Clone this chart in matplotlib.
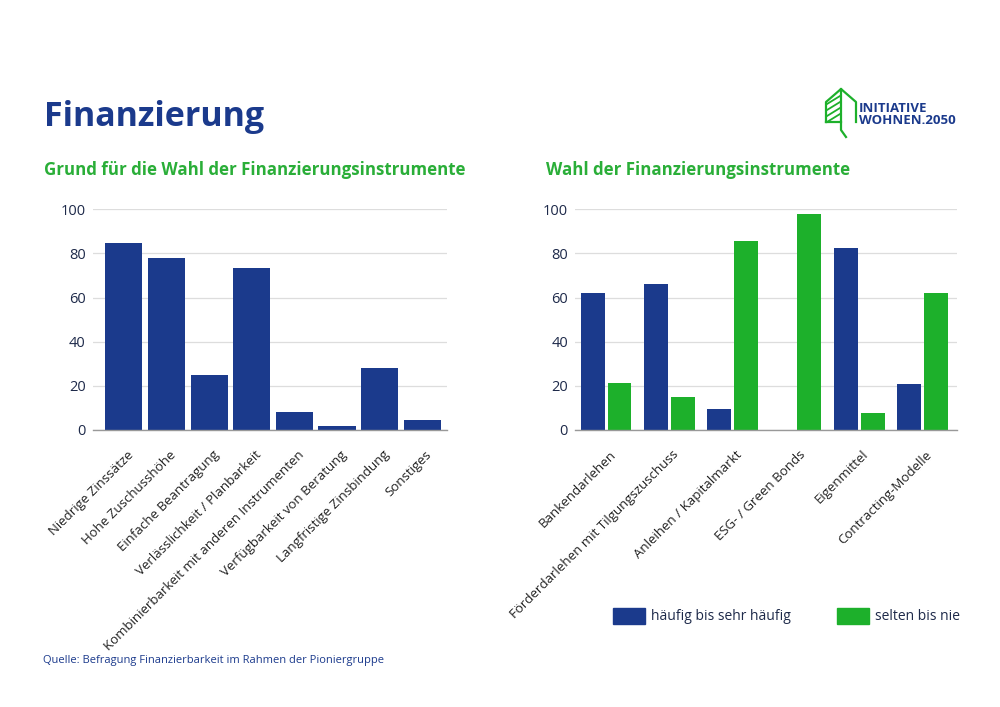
import numpy as np
import matplotlib
matplotlib.use("Agg")
import matplotlib.pyplot as plt
import matplotlib.transforms as mtrans
from matplotlib.patches import Rectangle

plt.rcParams['font.family'] = ['Open Sans', 'DejaVu Sans']

# Daten
gruende = ['Niedrige Zinssätze', 'Hohe Zuschusshöhe', 'Einfache Beantragung',
           'Verlässlichkeit / Planbarkeit', 'Kombinierbarkeit mit anderen Instrumenten',
           'Verfügbarkeit von Beratung', 'Langfristige Zinsbindung', 'Sonstiges']
gruende_werte = [84.5, 78, 25, 73.5, 8, 2, 28, 4.5]

instrumente = ['Bankendarlehen', 'Förderdarlehen mit Tilgungszuschuss',
               'Anleihen / Kapitalmarkt', 'ESG- / Green Bonds', 'Eigenmittel',
               'Contracting-Modelle']
haeufig = [62, 66, 9.5, 0, 82.5, 21]
selten = [21.5, 15, 85.5, 98, 7.5, 62]

serien = ['häufig bis sehr häufig', 'selten bis nie']
yticks = [0, 20, 40, 60, 80, 100]

BLAU = '#1b3a8c'
GRUEN = '#1db02b'
TEXT = '#1e2a4a'

fig = plt.figure(figsize=(10, 7.07), dpi=100)
fig.patch.set_facecolor('white')


def stil(ax):
    ax.set_ylim(0, 100)
    ax.set_yticks(yticks)
    ax.grid(axis='y', color='#dddddd', linewidth=0.9)
    ax.set_axisbelow(True)
    for s in ['top', 'right', 'left']:
        ax.spines[s].set_visible(False)
    ax.spines['bottom'].set_color('#999999')
    ax.spines['bottom'].set_linewidth(1.0)
    ax.tick_params(axis='y', length=0, labelsize=10.5, labelcolor=TEXT, pad=5)
    ax.tick_params(axis='x', length=0, labelsize=9.5, labelcolor='#222222', pad=13)
    # Beschriftungen etwas nach rechts schieben
    verschieb = mtrans.ScaledTranslation(3 / 100, 0, fig.dpi_scale_trans)
    for lab in ax.get_xticklabels():
        lab.set_transform(lab.get_transform() + verschieb)


# linkes Diagramm
ax1 = fig.add_axes([0.0927, 0.3918, 0.3543, 0.3122])
x1 = np.arange(len(gruende))
ax1.bar(x1, gruende_werte, width=0.87, color=BLAU)
ax1.set_xlim(-0.73, 7.58)
ax1.set_xticks(x1)
ax1.set_xticklabels(gruende, rotation=45, ha='right', rotation_mode='anchor')
stil(ax1)

# rechtes Diagramm
ax2 = fig.add_axes([0.575, 0.3918, 0.3817, 0.3122])
x2 = np.arange(len(instrumente))
ax2.bar(x2 - 0.212, haeufig, width=0.377, color=BLAU)
ax2.bar(x2 + 0.212, selten, width=0.377, color=GRUEN)
ax2.set_xlim(-0.49, 5.54)
ax2.set_xticks(x2)
ax2.set_xticklabels(instrumente, rotation=45, ha='right', rotation_mode='anchor')
stil(ax2)

# Titel
fig.text(0.044, 1 - 126 / 707, 'Finanzierung', fontsize=24.5, fontweight='bold', color=BLAU)
fig.text(0.044, 1 - 175 / 707, 'Grund für die Wahl der Finanzierungsinstrumente',
         fontsize=12.2, fontweight='bold', color='#2aae38')
fig.text(0.546, 1 - 175 / 707, 'Wahl der Finanzierungsinstrumente',
         fontsize=12.2, fontweight='bold', color='#2aae38')

# Legende
fig.patches.append(Rectangle((0.613, 1 - 624 / 707), 0.032, 16 / 707,
                             transform=fig.transFigure, color=BLAU))
fig.text(0.651, 1 - 617 / 707, serien[0], fontsize=10, color=TEXT, va='center')
fig.patches.append(Rectangle((0.837, 1 - 624 / 707), 0.032, 16 / 707,
                             transform=fig.transFigure, color=GRUEN))
fig.text(0.875, 1 - 617 / 707, serien[1], fontsize=10, color=TEXT, va='center')

# Quelle
fig.text(0.043, 1 - 660 / 707, 'Quelle: Befragung Finanzierbarkeit im Rahmen der Pioniergruppe',
         fontsize=8, color=BLAU, va='center')

# Logo
def px(x, y):
    return x / 1000, 1 - y / 707

haus = [px(826, 122), px(826, 102), px(841, 89), px(856, 102), px(856, 122)]
fig.lines.append(plt.Line2D([p[0] for p in haus], [p[1] for p in haus],
                            transform=fig.transFigure, color=GRUEN, lw=1.6))
fig.lines.append(plt.Line2D([px(826, 122)[0], px(841, 122)[0]], [px(826, 122)[1], px(841, 122)[1]],
                            transform=fig.transFigure, color=GRUEN, lw=1.6))
fig.lines.append(plt.Line2D([px(841, 89)[0], px(841, 130)[0], px(846, 137)[0]],
                            [px(841, 89)[1], px(841, 130)[1], px(846, 137)[1]],
                            transform=fig.transFigure, color=GRUEN, lw=1.6))
for yy in [100, 106, 112, 118]:
    a, b = px(827, yy + 4), px(840, yy - 4)
    fig.lines.append(plt.Line2D([a[0], b[0]], [a[1], b[1]],
                                transform=fig.transFigure, color=GRUEN, lw=1.3))
fig.text(0.859, 1 - 108 / 707, 'INITIATIVE', fontsize=9.5, fontweight='bold', color=BLAU, va='center')
fig.text(0.859, 1 - 121 / 707, 'WOHNEN.2050', fontsize=9.5, fontweight='bold', color=BLAU, va='center')

fig.savefig('out.png', dpi=100, facecolor='white')
